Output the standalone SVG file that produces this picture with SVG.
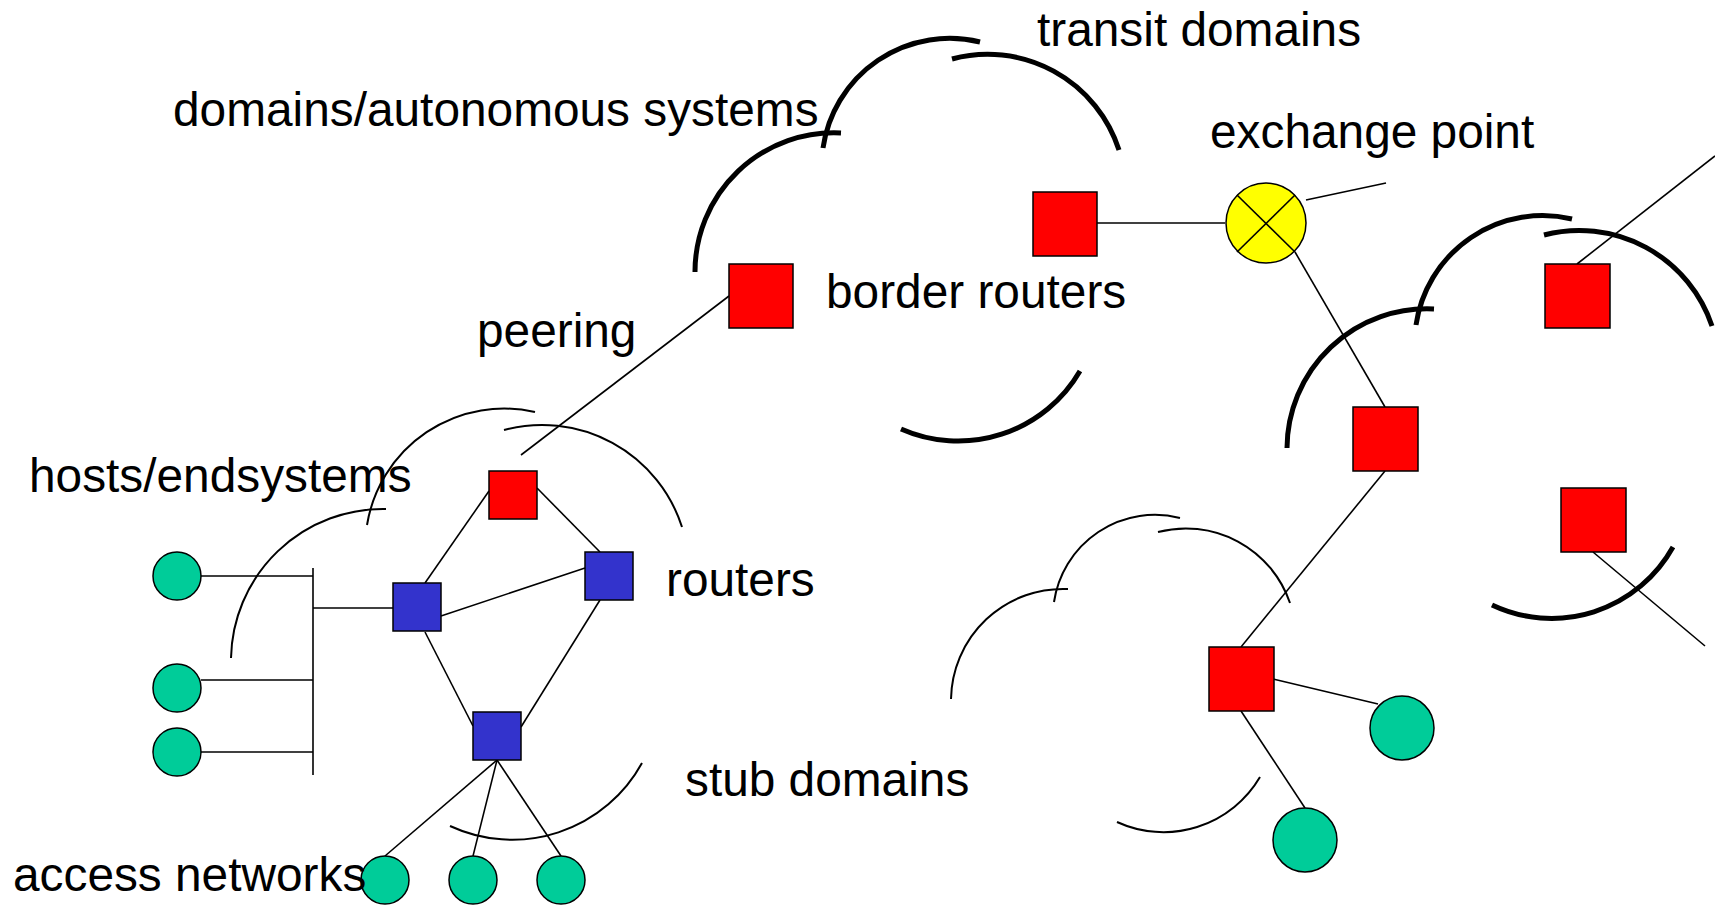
<svg xmlns="http://www.w3.org/2000/svg" width="1715" height="906" viewBox="0 0 1715 906">
<style>
.lbl{font-family:"Liberation Sans",Arial,sans-serif;font-size:47.8px;fill:#000}
.thin{fill:none;stroke:#000;stroke-width:2}
.thick{fill:none;stroke:#000;stroke-width:5}
.ln{fill:none;stroke:#000;stroke-width:1.6}
.red{fill:#FF0000;stroke:#000;stroke-width:1.5}
.blue{fill:#3333CC;stroke:#000;stroke-width:1.5}
.host{fill:#00CC99;stroke:#000;stroke-width:1.5}
.xp{fill:#FFFF00;stroke:#000;stroke-width:1.5}
</style>
<rect width="1715" height="906" fill="#fff"/>
<g id="clouds">
<path class="thin" d="M231 658 A152 152 0 0 1 386 509"/>
<path class="thin" d="M367 525 A139 139 0 0 1 535 412"/>
<path class="thin" d="M504 430 A147 147 0 0 1 682 527"/>
<path class="thin" d="M450 826 A148 148 0 0 0 642 763"/>
<path class="thick" d="M695 272 A139 139 0 0 1 841 133"/>
<path class="thick" d="M823 148 A128 128 0 0 1 980 42"/>
<path class="thick" d="M952 59 A138 138 0 0 1 1119 150"/>
<path class="thick" d="M901 429 A141 141 0 0 0 1080 371"/>
<path class="thick" d="M1287 448 A140 140 0 0 1 1434 309"/>
<path class="thick" d="M1416 325 A128 128 0 0 1 1572 219"/>
<path class="thick" d="M1544 235 A140 140 0 0 1 1712 326"/>
<path class="thick" d="M1492 605 A139 139 0 0 0 1673 547"/>
<path class="thin" d="M951 699 A112 112 0 0 1 1068 589"/>
<path class="thin" d="M1054 602 A102 102 0 0 1 1180 518"/>
<path class="thin" d="M1158 532 A110 110 0 0 1 1290 603"/>
<path class="thin" d="M1117 822 A112 112 0 0 0 1260 777"/>
</g>
<g id="connectors">
<line class="ln" x1="201" y1="576" x2="313" y2="576"/>
<line class="ln" x1="201" y1="680" x2="313" y2="680"/>
<line class="ln" x1="201" y1="752" x2="313" y2="752"/>
<line class="ln" x1="313" y1="568" x2="313" y2="775"/>
<line class="ln" x1="313" y1="608" x2="393" y2="608"/>
<line class="ln" x1="489" y1="491" x2="425" y2="583"/>
<line class="ln" x1="537" y1="488" x2="600" y2="552"/>
<line class="ln" x1="441" y1="616" x2="585" y2="568"/>
<line class="ln" x1="425" y1="632" x2="473" y2="726"/>
<line class="ln" x1="600" y1="600" x2="521" y2="727"/>
<line class="ln" x1="497" y1="760" x2="385" y2="856"/>
<line class="ln" x1="497" y1="760" x2="473" y2="856"/>
<line class="ln" x1="497" y1="760" x2="561" y2="856"/>
<line class="ln" x1="521" y1="455" x2="729" y2="296"/>
<line class="ln" x1="1097" y1="223" x2="1225" y2="223"/>
<line class="ln" x1="1295" y1="252" x2="1385" y2="407"/>
<line class="ln" x1="1306" y1="200" x2="1386" y2="183"/>
<line class="ln" x1="1577" y1="264" x2="1715" y2="156"/>
<line class="ln" x1="1593" y1="552" x2="1705" y2="646"/>
<line class="ln" x1="1385" y1="471" x2="1241" y2="647"/>
<line class="ln" x1="1273" y1="679" x2="1378" y2="704"/>
<line class="ln" x1="1241" y1="711" x2="1305" y2="808"/>
</g>
<g id="hosts-left">
<circle class="host" cx="177" cy="576" r="24"/>
<circle class="host" cx="177" cy="688" r="24"/>
<circle class="host" cx="177" cy="752" r="24"/>
</g>
<g id="hosts-bottom">
<circle class="host" cx="385" cy="880" r="24"/>
<circle class="host" cx="473" cy="880" r="24"/>
<circle class="host" cx="561" cy="880" r="24"/>
</g>
<g id="router-red-small"><rect class="red" x="489" y="471" width="48" height="48"/></g>
<g id="router-blue-1"><rect class="blue" x="393" y="583" width="48" height="48"/></g>
<g id="router-blue-2"><rect class="blue" x="585" y="552" width="48" height="48"/></g>
<g id="router-blue-3"><rect class="blue" x="473" y="712" width="48" height="48"/></g>
<g id="border-router-1"><rect class="red" x="729" y="264" width="64" height="64"/></g>
<g id="border-router-2"><rect class="red" x="1033" y="192" width="64" height="64"/></g>
<g id="border-router-3"><rect class="red" x="1353" y="407" width="65" height="64"/></g>
<g id="border-router-4"><rect class="red" x="1545" y="264" width="65" height="64"/></g>
<g id="border-router-5"><rect class="red" x="1561" y="488" width="65" height="64"/></g>
<g id="border-router-6"><rect class="red" x="1209" y="647" width="65" height="64"/></g>
<g id="exchange-point">
<circle class="xp" cx="1266" cy="223" r="40"/>
<line class="ln" x1="1237" y1="195" x2="1295" y2="252"/>
<line class="ln" x1="1295" y1="195" x2="1237" y2="252"/>
</g>
<g id="host-r1"><circle class="host" cx="1402" cy="728" r="32"/></g>
<g id="host-r2"><circle class="host" cx="1305" cy="840" r="32"/></g>
<g id="labels">
<text class="lbl" x="1037" y="46">transit domains</text>
<text class="lbl" x="173" y="126">domains/autonomous systems</text>
<text class="lbl" x="1210" y="148">exchange point</text>
<text class="lbl" x="826" y="308">border routers</text>
<text class="lbl" x="477" y="347">peering</text>
<text class="lbl" x="29" y="492">hosts/endsystems</text>
<text class="lbl" x="666" y="596">routers</text>
<text class="lbl" x="685" y="796">stub domains</text>
<text class="lbl" x="13" y="891">access networks</text>
</g>
</svg>
